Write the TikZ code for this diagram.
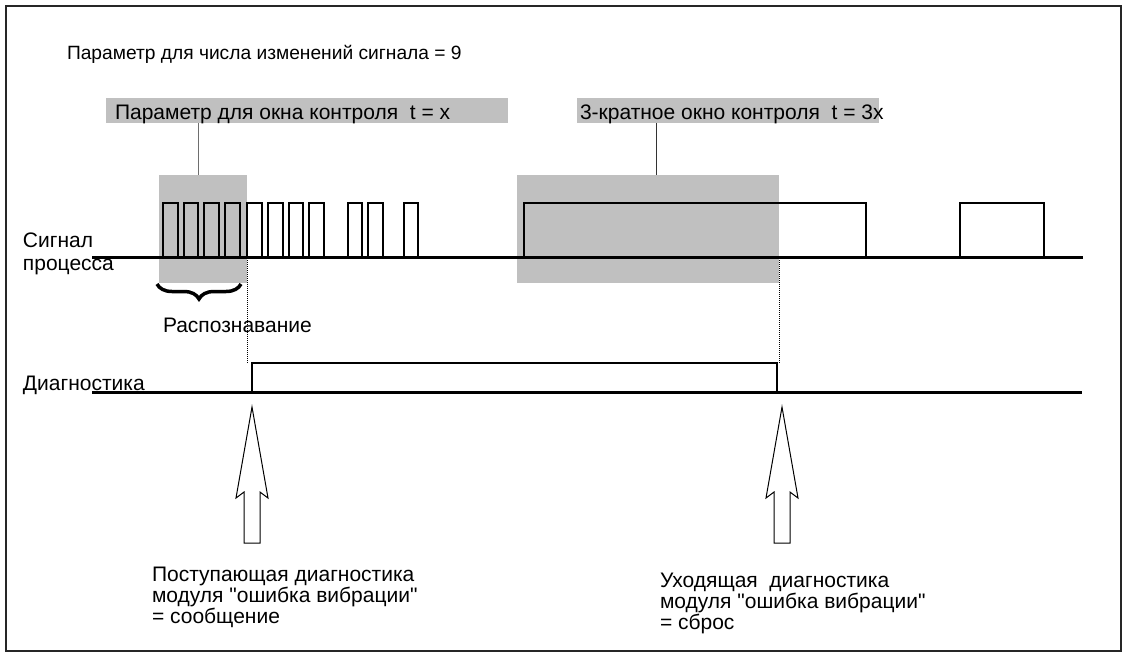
\documentclass[tikz,border=0pt]{standalone}
\usepackage{fontspec}
\setmainfont{Liberation Sans}[Ligatures=TeXOff]
\usetikzlibrary{positioning,calc,decorations.pathreplacing}
\definecolor{ink}{HTML}{000000}
\definecolor{winGray}{HTML}{C0C0C0}
\definecolor{leadGray}{HTML}{6E6E6E}
\newcommand{\hollowarrow}[1]{%
  \draw[blockarrow] (#1) -- ++(16,91) -- ++(-8,-6) -- ++(0,51) -- ++(-16,0)
    -- ++(0,-51) -- ++(-8,6) -- cycle;}

\begin{document}
\begin{tikzpicture}[x=1pt,y=-1pt,
  lbl/.style={font=\fontsize{21}{21}\selectfont, text=ink, inner sep=0pt, outer sep=0pt, align=left},
  titlelbl/.style={lbl, font=\fontsize{19.2}{21}\selectfont},
  boxlbl/.style={lbl, font=\fontsize{21}{22}\selectfont},
  greybox/.style={fill=winGray, draw=none, inner sep=0pt, outer sep=0pt, anchor=north west},
  axis/.style={line width=3pt, draw=ink},
  pulse/.style={line width=2pt, draw=ink},
  lead/.style={line width=1pt, draw=leadGray},
  dotline/.style={line width=0.8pt, dash pattern=on 1pt off 1pt},
  blockarrow/.style={line width=1pt, fill=white, line join=miter}]
  \useasboundingbox (0,0) rectangle (1128,657);
  \draw[line width=1.2pt, draw=ink!85] (6,6) rectangle (1121,651);

  \node[titlelbl, anchor=base west] (title) at (67,59) {Параметр для числа изменений сигнала = 9};

  % label boxes and control windows
  \node[greybox, minimum width=402, minimum height=25] (boxA) at (106,98) {};
  \node[greybox, minimum width=302, minimum height=25] (boxB) at (577,98) {};
  \node[boxlbl, anchor=base west] (boxAtext) at (115,119) {Параметр для окна контроля~ t = x};
  \node[boxlbl, anchor=base west] (boxBtext) at (580,119) {3-кратное окно контроля~ t = 3x};
  \node[greybox, minimum width=88, minimum height=108] (winA) at (159,175) {};
  \node[greybox, minimum width=262, minimum height=108] (winB) at (517,175) {};
  \coordinate (leadA) at (198,0);
  \coordinate (leadB) at (656,0);
  \draw[lead] (boxA.south -| leadA) -- (winA.north -| leadA);
  \draw[lead, draw=ink!80] (boxB.south -| leadB) -- (winB.north -| leadB);

  % process signal
  \node[lbl, anchor=north west] (sigLabel) at (23,233) {Сигнал\\[2pt]процесса};
  \foreach \s in {163,183.7,204.4,225.1,247,268,288.5,309,347.5,368,403.5}
    \draw[pulse] (\s,257) -- (\s,203) -- (\s+14.5,203) -- (\s+14.5,257);
  \draw[pulse] (524,257) |- (866,203) -- (866,257);
  \draw[pulse] (960,257) |- (1044,203) -- (1044,257);
  \coordinate (sigStart) at (92,257);
  \coordinate (sigEnd) at (1083,257);
  \draw[axis] (sigStart) -- (sigEnd);

  \draw[line width=3.5pt, decorate, decoration={brace, mirror, amplitude=15pt}]
    (157,284) -- (241,284) coordinate (braceEnd);
  \node[lbl, anchor=base west] (detect) at (163,332) {Распознавание};

  % diagnostics
  \node[lbl, anchor=base west] (diagLabel) at (23,390) {Диагностика};
  \coordinate (diagStart) at (92,392);
  \coordinate (diagEnd) at (1082,392);
  \coordinate (riseIn) at (252,363);
  \coordinate (fallOut) at (777,363);
  \draw[pulse] (riseIn |- diagStart) -- (riseIn) -- (fallOut) -- (fallOut |- diagStart);
  \draw[axis] (diagStart) -- (diagEnd);
  \draw[dotline] (winA.east |- 0,260) -- (winA.east |- riseIn);
  \draw[dotline] (winB.east |- 0,260) -- (winB.east |- fallOut);

  % incoming / outgoing arrows
  \coordinate (tipIn) at (252,407);
  \coordinate (tipOut) at (782,407);
  \hollowarrow{tipIn}
  \hollowarrow{tipOut}
  \node[lbl, anchor=north west] (msgIn) at (152,567)
    {Поступающая диагностика\\модуля "ошибка вибрации"\\= сообщение};
  \node[lbl, anchor=north west] (msgOut) at (660,573)
    {Уходящая~ диагностика\\модуля "ошибка вибрации"\\= сброс};
\end{tikzpicture}
\end{document}
